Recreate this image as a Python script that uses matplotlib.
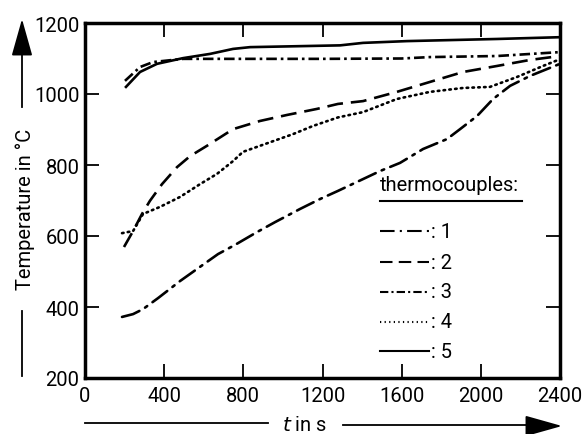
import matplotlib.pyplot as plt
from matplotlib import rcParams, font_manager

# prefer a narrow face, fall back to Roboto
FAMILY = 'Roboto'
SIZE = 14.5
for name, size in [('Liberation Sans Narrow', 15), ('DejaVu Sans Condensed', 13.5)]:
    try:
        font_manager.findfont(font_manager.FontProperties(family=name), fallback_to_default=False)
        FAMILY, SIZE = name, size
        break
    except ValueError:
        pass

rcParams['font.family'] = [FAMILY, 'DejaVu Sans']
rcParams['font.size'] = SIZE

# thermocouple readings, time in s and temperature in degC
t1 = [187, 243, 293, 369, 480, 581, 672, 758, 869, 960, 1086, 1187, 1278, 1491, 1592,
      1708, 1829, 1895, 1981, 2062, 2148, 2249, 2400]
T1 = [372, 380, 394, 425, 473, 513, 549, 575, 611, 639, 676, 704, 727, 783, 806,
      845, 873, 901, 938, 986, 1023, 1051, 1085]

t2 = [197, 243, 288, 328, 389, 465, 531, 616, 748, 884, 1021, 1172, 1278, 1405, 1576,
      1743, 1910, 2082, 2249, 2400]
T2 = [569, 614, 662, 699, 746, 794, 825, 854, 901, 924, 941, 958, 972, 980, 1006,
      1034, 1062, 1079, 1096, 1107]

t3 = [202, 278, 344, 495, 800, 1200, 1600, 1743, 2082, 2400]
T3 = [1037, 1076, 1090, 1099, 1099, 1099, 1100, 1104, 1107, 1118]

t4 = [187, 243, 293, 379, 480, 581, 667, 748, 798, 884, 1051, 1152, 1278, 1405, 1576,
      1743, 1910, 2046, 2183, 2314, 2400]
T4 = [608, 614, 662, 682, 710, 746, 775, 811, 837, 854, 887, 910, 934, 949, 986,
      1006, 1017, 1020, 1048, 1079, 1098]

t5 = [207, 278, 364, 495, 632, 748, 834, 1289, 1405, 1627, 2082, 2400]
T5 = [1020, 1062, 1085, 1101, 1113, 1127, 1132, 1137, 1144, 1149, 1155, 1160]

STYLES = {
    '1': (0, (7, 2.5, 1, 2.5)),
    '2': (0, (6, 3)),
    '3': (0, (4, 1.5, 1, 1.5)),
    '4': (0, (0.6, 1.6)),
    '5': '-',
}

FIG = plt.figure(figsize=(5.83, 4.35), dpi=100)
W, H = 583, 435
ax = FIG.add_axes([85 / W, 1 - 379 / H, (560 - 85) / W, (379 - 24) / H])

lw = 1.9
ax.plot(t1, T1, color='k', lw=lw, ls=STYLES['1'], dash_capstyle='round')
ax.plot(t2, T2, color='k', lw=lw, ls=STYLES['2'])
ax.plot(t3, T3, color='k', lw=lw, ls=STYLES['3'])
ax.plot(t4, T4, color='k', lw=lw, ls=STYLES['4'], dash_capstyle='round')
ax.plot(t5, T5, color='k', lw=lw, ls=STYLES['5'])

ax.set_xlim(0, 2400)
ax.set_ylim(200, 1200)
ax.set_xticks(range(0, 2401, 400))
ax.set_yticks(range(200, 1201, 200))
ax.tick_params(direction='in', length=10, width=1.3, top=True, right=True,
               labeltop=False, labelright=False, pad=4)
ax.tick_params(axis='x', pad=6)
for s in ax.spines.values():
    s.set_linewidth(2.5)

# legend drawn by hand inside the axes
ax.text(1490, 745, 'thermocouples:', ha='left', va='center')
ax.plot([1490, 2210], [698, 698], color='k', lw=1.5)
for name, y in zip(['1', '2', '3', '4', '5'], [613, 526, 443, 358, 276]):
    ax.plot([1490, 1740], [y, y], color='k', lw=1.5, ls=STYLES[name])
    ax.text(1750, y, ': ' + name, ha='left', va='center')

# axis labels with arrows
FIG.text(25 / W, 1 - 209 / H, 'Temperature in °C', rotation=90, ha='center', va='center')
FIG.add_artist(plt.Line2D([22 / W, 22 / W], [1 - 377 / H, 1 - 312 / H], color='k', lw=1.3))
FIG.add_artist(plt.Line2D([22 / W, 22 / W], [1 - 108 / H, 1 - 50 / H], color='k', lw=1.3))
ax.annotate('', xy=(22 / W, 1 - 20 / H), xytext=(22 / W, 1 - 55 / H), xycoords='figure fraction',
            arrowprops=dict(arrowstyle='-|>,head_length=1.6,head_width=0.45', color='k', lw=1.3,
                            shrinkA=0, shrinkB=0), annotation_clip=False)

FIG.text(305 / W, 1 - 426 / H, '$t$ in s', ha='center', va='center')
FIG.add_artist(plt.Line2D([85 / W, 268 / W], [1 - 424 / H, 1 - 424 / H], color='k', lw=1.3))
FIG.add_artist(plt.Line2D([343 / W, 530 / W], [1 - 426 / H, 1 - 426 / H], color='k', lw=1.3))
ax.annotate('', xy=(562 / W, 1 - 427 / H), xytext=(528 / W, 1 - 427 / H), xycoords='figure fraction',
            arrowprops=dict(arrowstyle='-|>,head_length=1.6,head_width=0.45', color='k', lw=1.3,
                            shrinkA=0, shrinkB=0), annotation_clip=False)

plt.savefig('out.png', dpi=100)
